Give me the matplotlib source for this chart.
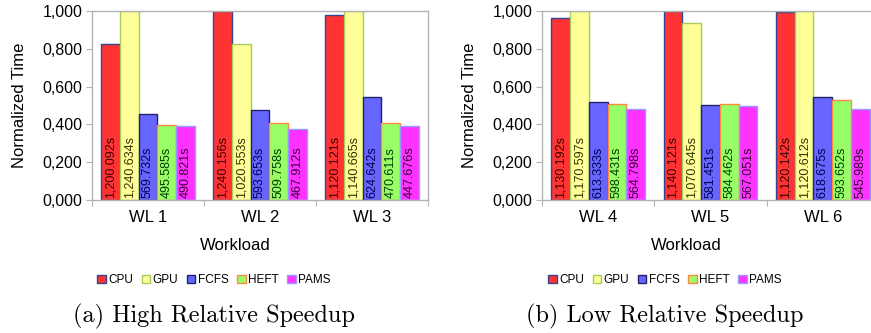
import matplotlib
matplotlib.use("Agg")
import matplotlib.pyplot as plt
from matplotlib.patches import Rectangle
from matplotlib.ticker import FuncFormatter, FixedLocator

schedulers = ["CPU", "GPU", "FCFS", "HEFT", "PAMS"]
workloads_a = ["WL 1", "WL 2", "WL 3"]
workloads_b = ["WL 4", "WL 5", "WL 6"]

# normalized bar heights, one row per workload
norm_a = [[0.824, 1.000, 0.455, 0.395, 0.392],
          [1.000, 0.824, 0.476, 0.409, 0.376],
          [0.979, 1.000, 0.547, 0.409, 0.390]]
norm_b = [[0.961, 1.000, 0.520, 0.510, 0.481],
          [1.000, 0.935, 0.505, 0.510, 0.495],
          [0.993, 1.000, 0.547, 0.527, 0.483]]

# run times written inside the bars (seconds)
times_a = [[1200.092, 1240.634, 569.732, 495.585, 490.821],
           [1240.156, 1020.553, 593.653, 509.758, 467.912],
           [1120.121, 1140.665, 624.642, 470.611, 447.676]]
times_b = [[1130.192, 1170.597, 613.333, 598.431, 564.798],
           [1140.121, 1070.645, 581.451, 584.462, 567.051],
           [1120.142, 1120.612, 618.675, 593.652, 545.989]]

face = ["#ff3333", "#ffff99", "#6666ff", "#99ff66", "#ff33ff"]
edge = ["#33448f", "#a8cc55", "#22226e", "#ff8844", "#9999ff"]
txt = ["#3a0000", "#333300", "#000055", "#003a00", "#3a003a"]

sans = "Liberation Sans"
grey = "#b3b3b3"
W, H = 871.0, 333.0

fig = plt.figure(figsize=(8.71, 3.33), dpi=100)


def comma_fmt(v, pos):
    return ("%.3f" % v).replace(".", ",")


def draw_panel(rect, workloads, norm, times, cx, caption):
    ax = fig.add_axes(rect)
    w = 0.167
    for i in range(len(workloads)):
        for j in range(len(schedulers)):
            x = i + 0.5 + (j - 2) * w
            ax.bar(x, norm[i][j], width=w, color=face[j], edgecolor=edge[j],
                   linewidth=1.0, zorder=2)
            ax.text(x, 0.012, "{:,.3f}s".format(times[i][j]), rotation=90,
                    ha="center", va="bottom", fontsize=9, family=sans,
                    color=txt[j], zorder=3)
    ax.set_xlim(0, 3)
    ax.set_ylim(0, 1.0)
    ax.xaxis.set_major_locator(FixedLocator([0, 1, 2, 3]))
    ax.xaxis.set_minor_locator(FixedLocator([0.5, 1.5, 2.5]))
    ax.set_xticklabels([], minor=False)
    ax.set_xticklabels(workloads, minor=True)
    ax.tick_params(axis="x", which="major", length=4, color=grey)
    ax.tick_params(axis="x", which="minor", length=0, pad=7, labelsize=12)
    ax.set_yticks([0, 0.2, 0.4, 0.6, 0.8, 1.0])
    ax.yaxis.set_major_formatter(FuncFormatter(comma_fmt))
    ax.tick_params(axis="y", length=4, color=grey, labelsize=11.5, pad=3)
    for lab in ax.get_xticklabels(minor=True) + ax.get_yticklabels():
        lab.set_family(sans)
    for s in ax.spines.values():
        s.set_color(grey)
        s.set_linewidth(1.0)

    fig.text(rect[0] - 72 / W, rect[1] + rect[3] / 2, "Normalized Time",
             rotation=90, ha="center", va="center", fontsize=12, family=sans)
    fig.text(cx + 21 / W, 1 - 245 / H, "Workload", ha="center", va="center",
             fontsize=12, family=sans)
    handles = [Rectangle((0, 0), 1, 1, facecolor=face[j], edgecolor=edge[j],
                         linewidth=1.0) for j in range(len(schedulers))]
    fig.legend(handles, schedulers, loc="center", bbox_to_anchor=(cx, 1 - 280 / H),
               ncol=5, frameon=False, prop={"family": sans, "size": 8.5},
               handlelength=0.75, handleheight=0.75, handletextpad=0.2,
               columnspacing=0.7, borderaxespad=0)
    fig.text(cx, 1 - 316 / H, caption, ha="center", va="center",
             fontsize=17.5, family="cmr10")
    return ax


draw_panel([92 / W, 133 / H, 336 / W, 189 / H], workloads_a, norm_a, times_a,
           214 / W, "(a) High Relative Speedup")
draw_panel([542 / W, 133 / H, 337 / W, 189 / H], workloads_b, norm_b, times_b,
           665 / W, "(b) Low Relative Speedup")

fig.savefig("out.png", dpi=100)
